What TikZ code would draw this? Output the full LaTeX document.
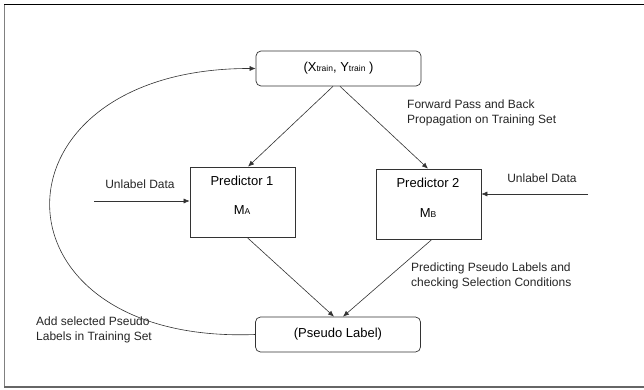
\documentclass[tikz,border=0pt]{standalone}
\usepackage{fontspec}
\setmainfont{Liberation Sans}
\usetikzlibrary{arrows.meta}
\definecolor{ln}{HTML}{333333}
\newcommand{\sm}[1]{{\fontsize{8.5}{9}\selectfont #1}}
\begin{document}
\begin{tikzpicture}[x=1pt,y=-1pt,
  boxr/.style={draw=ln,line width=0.7pt,rounded corners=5pt,minimum width=165pt,minimum height=35pt,inner sep=0pt,font=\fontsize{13}{15}\selectfont},
  boxp/.style={draw=ln,line width=0.7pt,minimum width=105pt,minimum height=70pt,inner sep=0pt},
  lab/.style={font=\fontsize{12}{14}\selectfont,inner sep=0pt,text=black!85},
  arr/.style={draw=ln,line width=0.6pt,-{Latex[length=6pt,width=5pt]}}]
\useasboundingbox (0,0) rectangle (644,390);
\fill[white] (0,0) rectangle (644,390);
% frame
\draw[black,line width=1pt] (4,5) -- (644,5);
\draw[gray,line width=1pt] (4,5) -- (4,387);
\draw[gray!80!black,line width=1.2pt] (4,387) -- (644,387);
% nodes
\node[boxr] (top) at (338.5,68.5) {(X\sm{train}, Y\sm{train} )};
\node[boxr] (ps) at (338,334.5) {(Pseudo Label)};
\node[boxp] (p1) at (242.5,202) {};
\node[boxp] (p2) at (428.5,204) {};
\node[font=\fontsize{13}{15}\selectfont,inner sep=0pt] (p1t) at (242,181) {Predictor 1};
\node[font=\fontsize{13}{15}\selectfont,inner sep=0pt] (p1m) at (242,210) {M\sm{A}};
\node[font=\fontsize{13}{15}\selectfont,inner sep=0pt] (p2t) at (428,183) {Predictor 2};
\node[font=\fontsize{13}{15}\selectfont,inner sep=0pt] (p2m) at (428,213) {M\sm{B}};
% labels
\node[lab] (u1) at (140,184) {Unlabel Data};
\node[lab] (u2) at (542,178) {Unlabel Data};
\node[lab,anchor=north west,align=left,font=\fontsize{12}{14.5}\selectfont] (fw) at (407,100) {Forward Pass and Back\\Propagation on Training Set};
\node[lab,anchor=north west,align=left,font=\fontsize{12}{14.5}\selectfont] (pp) at (411,263) {Predicting Pseudo Labels and\\checking Selection Conditions};
\node[lab,anchor=north west,align=left,font=\fontsize{12}{14.5}\selectfont] (ad) at (36,317) {Add selected Pseudo\\Labels in Training Set};
% free ends
\coordinate (s1) at (94,201);
\coordinate (s2) at (588,194);
% connectors
\draw[arr] (top.south -| 333,0) -- (p1.north -| 248,0);
\draw[arr] (top.south -| 340,0) -- (p2.north -| 428,0);
\draw[arr] (p1.south -| 247,0) -- (ps.north -| 334,0);
\draw[arr] (p2.south -| 432,0) -- (ps.north -| 343,0);
\draw[arr] (s1) -- (p1.west |- s1);
\draw[arr] (s2) -- (p2.east |- s2);
\draw[arr] (ps.west) .. controls (-18,345) and (-18,68) .. (top.west);
\end{tikzpicture}
\end{document}
